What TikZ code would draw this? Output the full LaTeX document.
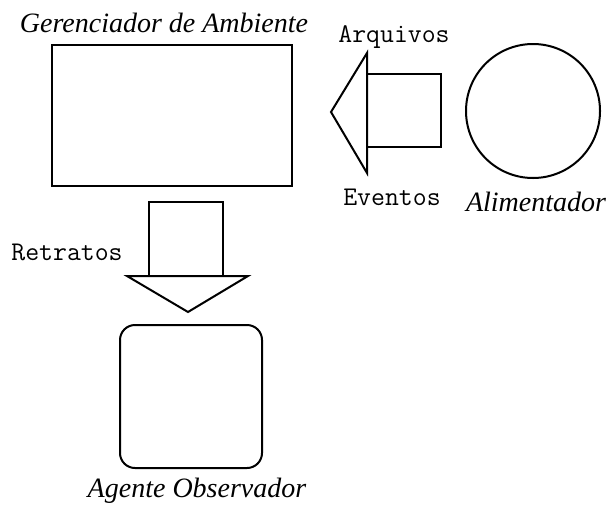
\documentclass[tikz,border=0pt]{standalone}
\usepackage{fontspec}
\setmainfont{Liberation Serif}
\begin{document}
\begin{tikzpicture}[x=1pt,y=-1pt,
  shp/.style={draw=black,line width=2pt,line join=miter},
  lbl/.style={inner sep=0pt,font=\fontsize{28}{30}\selectfont\itshape},
  mono/.style={inner sep=0pt,font=\fontsize{27}{29}\selectfont\ttfamily}]
\useasboundingbox (0,0) rectangle (609,509);
% Gerenciador
\node[shp,minimum width=240pt,minimum height=141pt,inner sep=0pt] (ger) at (172,115.5) {};
\node[lbl,anchor=base] (gerl) at (164,32) {Gerenciador de Ambiente};
% left arrow
\draw[shp] (367,74) rectangle (441,147);
\draw[shp] (367,53) -- (331,112) -- (367,173) -- cycle;
\coordinate (la) at (367,112);
\node[mono,anchor=base] (arq) at (394,42) {Arquivos};
\node[mono,anchor=base] (evt) at (392,205) {Eventos};
% circle
\node[shp,circle,minimum size=134pt,inner sep=0pt] (ali) at (533,111) {};
\node[lbl,anchor=base] (alil) at (536,211) {Alimentador};
% down arrow
\draw[shp] (149,202) rectangle (223,276);
\draw[shp] (127,276) -- (248,276) -- (188,312) -- cycle;
\node[mono,anchor=base] (ret) at (67,260) {Retratos};
% observer
\node[shp,rounded corners=15pt,minimum width=142pt,minimum height=143pt,inner sep=0pt] (obs) at (191,396.5) {};
\node[lbl,anchor=base] (obsl) at (197,497) {Agente Observador};
\end{tikzpicture}
\end{document}
